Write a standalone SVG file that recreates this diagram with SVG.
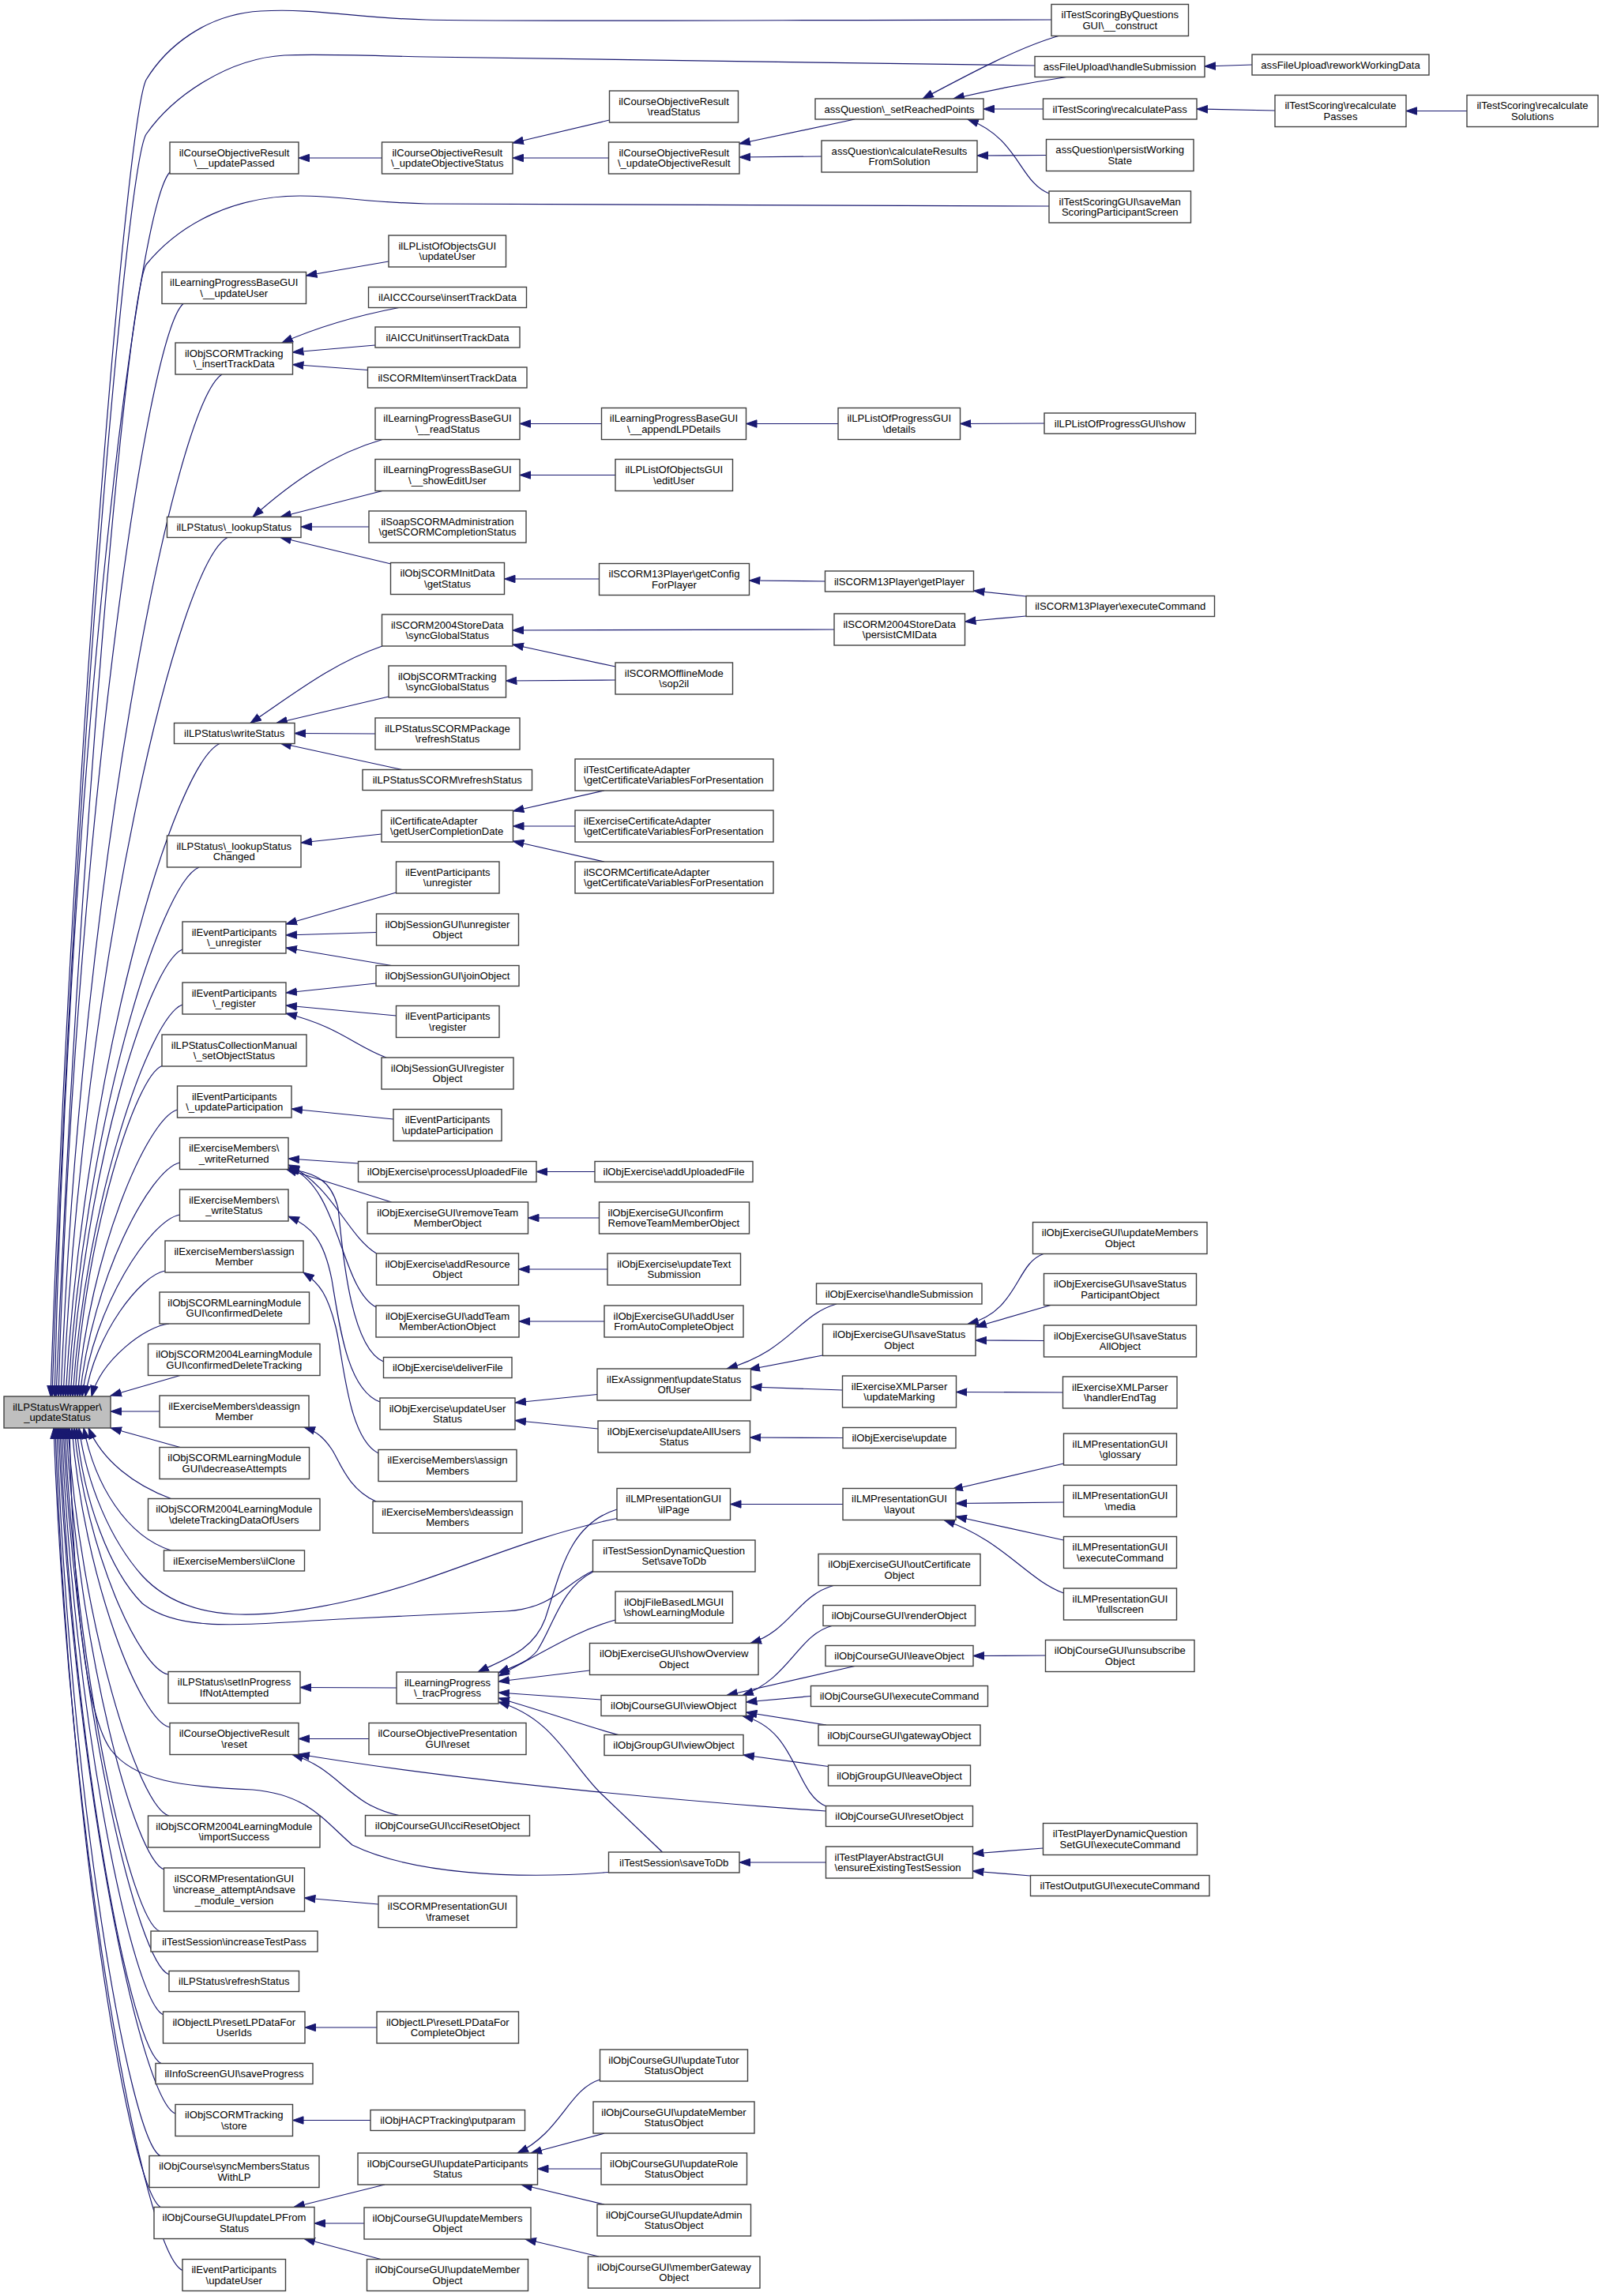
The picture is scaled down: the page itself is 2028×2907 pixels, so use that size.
<svg xmlns="http://www.w3.org/2000/svg" width="2028" height="2907" viewBox="0 0 2028 2907">
<style>
.n rect{fill:#fff;stroke:#404040;stroke-width:1.4}
.n text{font-family:"Liberation Sans",Arial,Helvetica,sans-serif;font-size:13.1px;fill:#000;text-anchor:middle}
.n.l text{text-anchor:start}
#n_main rect{fill:#bfbfbf}
.e{fill:none;stroke:#191970;stroke-width:1.2;marker-end:url(#arr)}
</style>
<defs>
<marker id="arr" markerUnits="userSpaceOnUse" markerWidth="15" markerHeight="11" refX="14" refY="5.5" orient="auto">
<path d="M0.5,0.8 L14,5.5 L0.5,10.2 z" fill="#191970" stroke="#191970" stroke-width="1"/>
</marker>
</defs>
<rect x="0" y="0" width="2028" height="2907" fill="#fff"/>
<g id="edges">
<path class="e" d="M1331,25 C1000,25 700,28 540,25 C450,23 400,10 330,14 C260,18 210,60 185,101 C160,150 90,1000 64,1768"/>
<path class="e" d="M1310,83 C1000,79 700,76 540,72 C450,70 400,68 360,70 C290,74 220,120 185,170 C160,210 92,1000 66,1768"/>
<path class="e" d="M1328,261 C1000,260 700,260 540,258 C460,256 430,248 380,248 C300,248 230,280 185,335 C160,380 98,1100 71,1768"/>
<path class="e" d="M215,218 C171.2,264.5 86.5,993 69,1768"/>
<path class="e" d="M232,384.5 C184.6,426 93,1076.3 74,1768"/>
<path class="e" d="M281,474 C219.8,512.8 101.5,1121 77,1768"/>
<path class="e" d="M288,680.5 C225.6,713.1 105,1224.3 80,1768"/>
<path class="e" d="M279,941 C220.2,965.8 106.5,1354.5 83,1768"/>
<path class="e" d="M252,1098 C202.2,1118.1 105.9,1433 86,1768"/>
<path class="e" d="M231,1202 C188.4,1219 106,1485 89,1768"/>
<path class="e" d="M231,1272 C189.3,1286.9 108.7,1520 92,1768"/>
<path class="e" d="M205,1349.5 C172,1362.1 108.2,1558.8 95,1768"/>
<path class="e" d="M224.5,1405 C186.5,1415.9 113.2,1586.5 98,1768"/>
<path class="e" d="M227.5,1472 C189.5,1480.9 116.2,1620 101,1768"/>
<path class="e" d="M227.5,1538 C190.5,1544.9 118.8,1653 104,1768"/>
<path class="e" d="M209,1609 C178.7,1613.8 120.1,1688.5 108,1768"/>
<path class="e" d="M214,1676 C184.6,1678.8 127.8,1721.5 116,1768"/>
<path class="e" d="M228,1741.5 L140,1767"/>
<path class="e" d="M202,1787 L140,1787"/>
<path class="e" d="M228,1832.5 L140,1808"/>
<path class="e" d="M216.5,1897.5 C170,1880 130,1850 112,1808"/>
<path class="e" d="M216.5,1963 C160,1945 120,1880 106,1808"/>
<path class="e" d="M781,1922.5 C650,1950 560,2000 450,2025 C340,2050 240,2060 180,1995 C140,1950 110,1880 100,1808"/>
<path class="e" d="M750.5,1989 C715,2005 700,2037 640,2040 L450,2049 C320,2055 230,2070 180,2030 C140,1990 105,1900 97,1808"/>
<path class="e" d="M213,2120 C177.3,2113.8 108.3,1964 94,1808"/>
<path class="e" d="M215,2187 C177.8,2179.4 105.9,1997.5 91,1808"/>
<path class="e" d="M770.5,2370.5 C650,2380 520,2372 446,2336 C410,2305 390,2272 320,2266 C230,2262 170,2255 140,2215 C105,2165 92,2000 88,1808"/>
<path class="e" d="M214,2299 C175.6,2289.2 101.4,2053.5 86,1808"/>
<path class="e" d="M208,2367 C170.8,2355.8 98.9,2087.5 84,1808"/>
<path class="e" d="M202,2445 C166,2432.3 96.4,2126.5 82,1808"/>
<path class="e" d="M214,2500 C173.8,2486.2 96.1,2154 80,1808"/>
<path class="e" d="M207,2551 C168.3,2536.1 93.5,2179.5 78,1808"/>
<path class="e" d="M204,2612.5 C165.6,2596.4 91.4,2210.3 76,1808"/>
<path class="e" d="M222,2676 C177.6,2658.6 91.8,2242 74,1808"/>
<path class="e" d="M203,2729.5 C163.7,2711 87.7,2268.8 72,1808"/>
<path class="e" d="M204,2795 C163.8,2775.3 86.1,2301.5 70,1808"/>
<path class="e" d="M231,2874.5 C182.1,2853.2 87.6,2341.3 68,1808"/>
<path class="e" d="M483.5,200 L378,200"/>
<path class="e" d="M771.5,152 L649,181"/>
<path class="e" d="M770.5,200 L649,200"/>
<path class="e" d="M1082,151 L936,182"/>
<path class="e" d="M1040,198 L936,199"/>
<path class="e" d="M1340,45.5 C1290,60 1230,92 1168,125"/>
<path class="e" d="M1350,97.5 C1300,105 1250,115 1207,125"/>
<path class="e" d="M1320.5,138 L1245,138"/>
<path class="e" d="M1328,245 C1290,230 1290,175 1225,151"/>
<path class="e" d="M1324.5,196.5 L1237,197"/>
<path class="e" d="M1585,82 L1525,84"/>
<path class="e" d="M1614,140 L1515,138"/>
<path class="e" d="M1857,140.5 L1780,140.5"/>
<path class="e" d="M492,331 L387.5,349"/>
<path class="e" d="M505,389.5 C450,400 400,415 357,434"/>
<path class="e" d="M475,437 L370.5,446"/>
<path class="e" d="M465.5,468.5 L370.5,461.5"/>
<path class="e" d="M484,556.5 C420,575 370,610 320,654.5"/>
<path class="e" d="M484,621.5 L355,654.5"/>
<path class="e" d="M467,667 L381,667"/>
<path class="e" d="M495,714 L355,680.5"/>
<path class="e" d="M761.5,536.5 L658,536.5"/>
<path class="e" d="M1061,536.5 L944.5,536.5"/>
<path class="e" d="M1322,536 L1215.5,536.5"/>
<path class="e" d="M779,601.5 L658,601.5"/>
<path class="e" d="M758.5,733 L638.5,733"/>
<path class="e" d="M1044.5,736 L948.5,735"/>
<path class="e" d="M1299,755 L1232.5,748"/>
<path class="e" d="M1299,780 L1221.5,787"/>
<path class="e" d="M1056,797 L649,798"/>
<path class="e" d="M779,844 L649,816"/>
<path class="e" d="M779,861 L640.5,862"/>
<path class="e" d="M484,818 C420,840 370,880 317,915.5"/>
<path class="e" d="M492,882 L350,915.5"/>
<path class="e" d="M475,929 L373,928.5"/>
<path class="e" d="M509,974.5 L355,941"/>
<path class="e" d="M765,1001 L649.5,1027"/>
<path class="e" d="M728,1046 L649.5,1046"/>
<path class="e" d="M765,1091 L649.5,1065"/>
<path class="e" d="M483,1056 L381,1067"/>
<path class="e" d="M501.5,1130 L362,1170"/>
<path class="e" d="M476.5,1180.5 L362,1184"/>
<path class="e" d="M495.5,1222.5 L362,1200"/>
<path class="e" d="M476,1245 L362,1257"/>
<path class="e" d="M501.5,1286 L362,1273"/>
<path class="e" d="M489,1339 C450,1325 430,1300 362,1283"/>
<path class="e" d="M498,1417 L369,1404"/>
<path class="e" d="M753,1483.5 L679,1483.5"/>
<path class="e" d="M758.5,1542 L668.5,1542"/>
<path class="e" d="M769,1607 L656.5,1607"/>
<path class="e" d="M765,1673 L657,1673"/>
<path class="e" d="M453.5,1473 L365,1467"/>
<path class="e" d="M495.5,1522 L362,1480"/>
<path class="e" d="M476.5,1587 C440,1565 420,1500 365,1475"/>
<path class="e" d="M476,1655 C430,1630 430,1500 365,1478"/>
<path class="e" d="M485.5,1724 C440,1705 432,1560 428,1530 C420,1495 400,1485 365,1480"/>
<path class="e" d="M481,1775 C440,1760 430,1680 420,1620 C410,1570 395,1553 365,1540"/>
<path class="e" d="M479,1840 C440,1820 435,1720 425,1680 C415,1640 405,1625 384,1611"/>
<path class="e" d="M476,1901 C440,1885 430,1850 420,1835 C410,1820 400,1812 385,1807"/>
<path class="e" d="M756,1765.5 L652,1776"/>
<path class="e" d="M757,1809 L652,1798.5"/>
<path class="e" d="M1059,1651 C1010,1665 1000,1710 920,1733"/>
<path class="e" d="M1041.5,1716 L948,1734"/>
<path class="e" d="M1066.5,1760 L950.5,1756"/>
<path class="e" d="M1067,1820.5 L949.5,1820"/>
<path class="e" d="M1321,1587.5 C1285,1600 1290,1660 1225,1676.5"/>
<path class="e" d="M1330,1652.5 L1235,1680"/>
<path class="e" d="M1321.5,1697.5 L1235,1697"/>
<path class="e" d="M1345.5,1763 L1210.5,1762.5"/>
<path class="e" d="M1346.5,1853 L1205,1886"/>
<path class="e" d="M1346.5,1902 L1210,1903.5"/>
<path class="e" d="M1346.5,1950 L1210,1920"/>
<path class="e" d="M1346.5,2017 C1300,2000 1270,1950 1195,1924.5"/>
<path class="e" d="M1067,1904.5 L924.5,1904.5"/>
<path class="e" d="M781,1911 C720,1930 710,1990 690,2050 C675,2090 640,2100 605,2117"/>
<path class="e" d="M751,1990 C710,2010 700,2060 680,2090 C668,2105 650,2110 631,2118"/>
<path class="e" d="M779,2051 C730,2065 700,2085 631,2122"/>
<path class="e" d="M746.5,2115 L631,2129"/>
<path class="e" d="M761,2152 L631,2143"/>
<path class="e" d="M783,2196.5 C740,2185 700,2170 631,2150"/>
<path class="e" d="M838.5,2345 L760,2270 C720,2230 700,2175 631,2155"/>
<path class="e" d="M502,2137 L380,2136.5"/>
<path class="e" d="M1055,2007.5 C1010,2020 1000,2065 950,2080.5"/>
<path class="e" d="M1053,2058.5 C1010,2070 1000,2125 940,2146.5"/>
<path class="e" d="M1082,2109.5 L920,2146.5"/>
<path class="e" d="M1026.5,2147.5 L944.5,2155"/>
<path class="e" d="M1046,2184 L944.5,2168"/>
<path class="e" d="M1046,2287 C1005,2270 1010,2190 940,2172.5"/>
<path class="e" d="M1323.5,2096 L1232,2096.5"/>
<path class="e" d="M1048.5,2236.5 L941,2222"/>
<path class="e" d="M1045.5,2293 C900,2283 600,2258 378,2221"/>
<path class="e" d="M467,2201.5 L378,2201.5"/>
<path class="e" d="M505,2298.5 C440,2285 430,2240 370,2221.5"/>
<path class="e" d="M1045.5,2358 L936,2358"/>
<path class="e" d="M1320.5,2340 L1231.5,2347"/>
<path class="e" d="M1304.5,2375 L1231.5,2369"/>
<path class="e" d="M479,2411 L385.5,2403"/>
<path class="e" d="M477,2567 L386,2567"/>
<path class="e" d="M469,2684.5 L370.5,2684.5"/>
<path class="e" d="M487,2766 L372,2794.5"/>
<path class="e" d="M461,2815 L398,2815"/>
<path class="e" d="M482,2860.5 L385,2834.5"/>
<path class="e" d="M759.5,2633 C720,2645 710,2700 655,2726"/>
<path class="e" d="M765,2701 L672,2726"/>
<path class="e" d="M761,2746 L680.5,2746"/>
<path class="e" d="M765,2791 L660,2766"/>
<path class="e" d="M758,2857 L665,2835"/>
</g>
<g id="n_main" class="n"><rect x="5" y="1768" width="135" height="40"/><text><tspan x="72.5" y="1785.5">ilLPStatusWrapper\</tspan><tspan x="72.5" y="1799.2">_updateStatus</tspan></text></g>
<g id="n_c1_1" class="n"><rect x="215" y="180" width="163" height="40"/><text><tspan x="296.5" y="197.5">ilCourseObjectiveResult</tspan><tspan x="296.5" y="211.2">\__updatePassed</tspan></text></g>
<g id="n_c1_2" class="n"><rect x="205" y="344.5" width="182.5" height="40"/><text><tspan x="296.25" y="362">ilLearningProgressBaseGUI</tspan><tspan x="296.25" y="375.7">\__updateUser</tspan></text></g>
<g id="n_c1_3" class="n"><rect x="222" y="434" width="148.5" height="40"/><text><tspan x="296.25" y="451.5">ilObjSCORMTracking</tspan><tspan x="296.25" y="465.2">\_insertTrackData</tspan></text></g>
<g id="n_c1_4" class="n"><rect x="211.5" y="654.5" width="169.5" height="26"/><text><tspan x="296.25" y="672.1">ilLPStatus\_lookupStatus</tspan></text></g>
<g id="n_c1_5" class="n"><rect x="220.5" y="915.5" width="152.5" height="26"/><text><tspan x="296.75" y="933.1">ilLPStatus\writeStatus</tspan></text></g>
<g id="n_c1_6" class="n"><rect x="211.5" y="1058" width="169.5" height="40"/><text><tspan x="296.25" y="1075.5">ilLPStatus\_lookupStatus</tspan><tspan x="296.25" y="1089.2">Changed</tspan></text></g>
<g id="n_c1_7" class="n"><rect x="231" y="1167" width="131" height="40"/><text><tspan x="296.5" y="1184.5">ilEventParticipants</tspan><tspan x="296.5" y="1198.2">\_unregister</tspan></text></g>
<g id="n_c1_8" class="n"><rect x="231" y="1244" width="131" height="40"/><text><tspan x="296.5" y="1261.5">ilEventParticipants</tspan><tspan x="296.5" y="1275.2">\_register</tspan></text></g>
<g id="n_c1_9" class="n"><rect x="205" y="1310" width="183" height="40"/><text><tspan x="296.5" y="1327.5">ilLPStatusCollectionManual</tspan><tspan x="296.5" y="1341.2">\_setObjectStatus</tspan></text></g>
<g id="n_c1_10" class="n"><rect x="224.5" y="1375" width="144.5" height="40"/><text><tspan x="296.75" y="1392.5">ilEventParticipants</tspan><tspan x="296.75" y="1406.2">\_updateParticipation</tspan></text></g>
<g id="n_c1_11" class="n"><rect x="227.5" y="1440.5" width="137.5" height="40"/><text><tspan x="296.25" y="1458">ilExerciseMembers\</tspan><tspan x="296.25" y="1471.7">_writeReturned</tspan></text></g>
<g id="n_c1_12" class="n"><rect x="227.5" y="1506" width="137.5" height="40"/><text><tspan x="296.25" y="1523.5">ilExerciseMembers\</tspan><tspan x="296.25" y="1537.2">_writeStatus</tspan></text></g>
<g id="n_c1_13" class="n"><rect x="209" y="1571" width="175" height="40"/><text><tspan x="296.5" y="1588.5">ilExerciseMembers\assign</tspan><tspan x="296.5" y="1602.2">Member</tspan></text></g>
<g id="n_c1_14" class="n"><rect x="202" y="1636" width="189.5" height="40"/><text><tspan x="296.75" y="1653.5">ilObjSCORMLearningModule</tspan><tspan x="296.75" y="1667.2">GUI\confirmedDelete</tspan></text></g>
<g id="n_c1_15" class="n"><rect x="187.5" y="1701.5" width="217.5" height="40"/><text><tspan x="296.25" y="1719">ilObjSCORM2004LearningModule</tspan><tspan x="296.25" y="1732.7">GUI\confirmedDeleteTracking</tspan></text></g>
<g id="n_c1_16" class="n"><rect x="202" y="1767" width="189" height="40"/><text><tspan x="296.5" y="1784.5">ilExerciseMembers\deassign</tspan><tspan x="296.5" y="1798.2">Member</tspan></text></g>
<g id="n_c1_17" class="n"><rect x="202" y="1832.5" width="189.5" height="40"/><text><tspan x="296.75" y="1850">ilObjSCORMLearningModule</tspan><tspan x="296.75" y="1863.7">GUI\decreaseAttempts</tspan></text></g>
<g id="n_c1_18" class="n"><rect x="187.5" y="1897.5" width="217.5" height="40"/><text><tspan x="296.25" y="1915">ilObjSCORM2004LearningModule</tspan><tspan x="296.25" y="1928.7">\deleteTrackingDataOfUsers</tspan></text></g>
<g id="n_c1_19" class="n"><rect x="207.5" y="1963" width="178" height="26"/><text><tspan x="296.5" y="1980.6">ilExerciseMembers\ilClone</tspan></text></g>
<g id="n_c1_20" class="n"><rect x="213" y="2116.5" width="167" height="40"/><text><tspan x="296.5" y="2134">ilLPStatus\setInProgress</tspan><tspan x="296.5" y="2147.7">IfNotAttempted</tspan></text></g>
<g id="n_c1_21" class="n"><rect x="215" y="2181.5" width="163" height="40"/><text><tspan x="296.5" y="2199">ilCourseObjectiveResult</tspan><tspan x="296.5" y="2212.7">\reset</tspan></text></g>
<g id="n_c1_22" class="n"><rect x="187.5" y="2299" width="217.5" height="40"/><text><tspan x="296.25" y="2316.5">ilObjSCORM2004LearningModule</tspan><tspan x="296.25" y="2330.2">\importSuccess</tspan></text></g>
<g id="n_c1_23" class="n"><rect x="207.5" y="2365" width="178" height="55"/><text><tspan x="296.5" y="2383.3">ilSCORMPresentationGUI</tspan><tspan x="296.5" y="2397">\increase_attemptAndsave</tspan><tspan x="296.5" y="2410.7">_module_version</tspan></text></g>
<g id="n_c1_24" class="n"><rect x="191" y="2445" width="211" height="26"/><text><tspan x="296.5" y="2462.6">ilTestSession\increaseTestPass</tspan></text></g>
<g id="n_c1_25" class="n"><rect x="214" y="2495.5" width="164.5" height="26"/><text><tspan x="296.25" y="2513.1">ilLPStatus\refreshStatus</tspan></text></g>
<g id="n_c1_26" class="n"><rect x="206.5" y="2547" width="179.5" height="40"/><text><tspan x="296.25" y="2564.5">ilObjectLP\resetLPDataFor</tspan><tspan x="296.25" y="2578.2">UserIds</tspan></text></g>
<g id="n_c1_27" class="n"><rect x="197" y="2612.5" width="199" height="26"/><text><tspan x="296.5" y="2630.1">ilInfoScreenGUI\saveProgress</tspan></text></g>
<g id="n_c1_28" class="n"><rect x="222" y="2664.5" width="148.5" height="40"/><text><tspan x="296.25" y="2682">ilObjSCORMTracking</tspan><tspan x="296.25" y="2695.7">\store</tspan></text></g>
<g id="n_c1_29" class="n"><rect x="189" y="2729.5" width="215" height="40"/><text><tspan x="296.5" y="2747">ilObjCourse\syncMembersStatus</tspan><tspan x="296.5" y="2760.7">WithLP</tspan></text></g>
<g id="n_c1_30" class="n"><rect x="195" y="2794.5" width="203" height="40"/><text><tspan x="296.5" y="2812">ilObjCourseGUI\updateLPFrom</tspan><tspan x="296.5" y="2825.7">Status</tspan></text></g>
<g id="n_c1_31" class="n"><rect x="231" y="2860.5" width="130.5" height="40"/><text><tspan x="296.25" y="2878">ilEventParticipants</tspan><tspan x="296.25" y="2891.7">\updateUser</tspan></text></g>
<g id="n_c2_1" class="n"><rect x="483.5" y="180" width="165.5" height="40"/><text><tspan x="566.25" y="197.5">ilCourseObjectiveResult</tspan><tspan x="566.25" y="211.2">\_updateObjectiveStatus</tspan></text></g>
<g id="n_c2_2" class="n"><rect x="492" y="298" width="148.5" height="40"/><text><tspan x="566.25" y="315.5">ilLPListOfObjectsGUI</tspan><tspan x="566.25" y="329.2">\updateUser</tspan></text></g>
<g id="n_c2_3" class="n"><rect x="466.5" y="363.5" width="200" height="26"/><text><tspan x="566.5" y="381.1">ilAICCCourse\insertTrackData</tspan></text></g>
<g id="n_c2_4" class="n"><rect x="475" y="414" width="183" height="26"/><text><tspan x="566.5" y="431.6">ilAICCUnit\insertTrackData</tspan></text></g>
<g id="n_c2_5" class="n"><rect x="465.5" y="465" width="201.5" height="26"/><text><tspan x="566.25" y="482.6">ilSCORMItem\insertTrackData</tspan></text></g>
<g id="n_c2_6" class="n"><rect x="475" y="516.5" width="183" height="40"/><text><tspan x="566.5" y="534">ilLearningProgressBaseGUI</tspan><tspan x="566.5" y="547.7">\__readStatus</tspan></text></g>
<g id="n_c2_7" class="n"><rect x="475" y="581.5" width="183" height="40"/><text><tspan x="566.5" y="599">ilLearningProgressBaseGUI</tspan><tspan x="566.5" y="612.7">\__showEditUser</tspan></text></g>
<g id="n_c2_8" class="n"><rect x="467" y="647" width="199" height="40"/><text><tspan x="566.5" y="664.5">ilSoapSCORMAdministration</tspan><tspan x="566.5" y="678.2">\getSCORMCompletionStatus</tspan></text></g>
<g id="n_c2_9" class="n"><rect x="494.5" y="712.5" width="144" height="40"/><text><tspan x="566.5" y="730">ilObjSCORMInitData</tspan><tspan x="566.5" y="743.7">\getStatus</tspan></text></g>
<g id="n_c2_10" class="n"><rect x="483.5" y="778" width="165.5" height="40"/><text><tspan x="566.25" y="795.5">ilSCORM2004StoreData</tspan><tspan x="566.25" y="809.2">\syncGlobalStatus</tspan></text></g>
<g id="n_c2_11" class="n"><rect x="492" y="843" width="148.5" height="40"/><text><tspan x="566.25" y="860.5">ilObjSCORMTracking</tspan><tspan x="566.25" y="874.2">\syncGlobalStatus</tspan></text></g>
<g id="n_c2_12" class="n"><rect x="475" y="909" width="183" height="40"/><text><tspan x="566.5" y="926.5">ilLPStatusSCORMPackage</tspan><tspan x="566.5" y="940.2">\refreshStatus</tspan></text></g>
<g id="n_c2_13" class="n"><rect x="459" y="974.5" width="214.5" height="26"/><text><tspan x="566.25" y="992.1">ilLPStatusSCORM\refreshStatus</tspan></text></g>
<g id="n_c2_14" class="n l"><rect x="483" y="1026" width="166.5" height="40"/><text><tspan x="494" y="1043.5">ilCertificateAdapter</tspan><tspan x="494" y="1057.2">\getUserCompletionDate</tspan></text></g>
<g id="n_c2_15" class="n"><rect x="501.5" y="1091" width="130.5" height="40"/><text><tspan x="566.75" y="1108.5">ilEventParticipants</tspan><tspan x="566.75" y="1122.2">\unregister</tspan></text></g>
<g id="n_c2_16" class="n"><rect x="476.5" y="1157" width="180" height="40"/><text><tspan x="566.5" y="1174.5">ilObjSessionGUI\unregister</tspan><tspan x="566.5" y="1188.2">Object</tspan></text></g>
<g id="n_c2_17" class="n"><rect x="476" y="1222.5" width="181" height="26"/><text><tspan x="566.5" y="1240.1">ilObjSessionGUI\joinObject</tspan></text></g>
<g id="n_c2_18" class="n"><rect x="501.5" y="1273.5" width="130.5" height="40"/><text><tspan x="566.75" y="1291">ilEventParticipants</tspan><tspan x="566.75" y="1304.7">\register</tspan></text></g>
<g id="n_c2_19" class="n"><rect x="483" y="1339" width="167" height="40"/><text><tspan x="566.5" y="1356.5">ilObjSessionGUI\register</tspan><tspan x="566.5" y="1370.2">Object</tspan></text></g>
<g id="n_c2_20" class="n"><rect x="498" y="1404.5" width="137" height="40"/><text><tspan x="566.5" y="1422">ilEventParticipants</tspan><tspan x="566.5" y="1435.7">\updateParticipation</tspan></text></g>
<g id="n_c2_21" class="n"><rect x="453.5" y="1470.5" width="225.5" height="26"/><text><tspan x="566.25" y="1488.1">ilObjExercise\processUploadedFile</tspan></text></g>
<g id="n_c2_22" class="n"><rect x="465" y="1522" width="203.5" height="40"/><text><tspan x="566.75" y="1539.5">ilObjExerciseGUI\removeTeam</tspan><tspan x="566.75" y="1553.2">MemberObject</tspan></text></g>
<g id="n_c2_23" class="n"><rect x="476.5" y="1587" width="180" height="40"/><text><tspan x="566.5" y="1604.5">ilObjExercise\addResource</tspan><tspan x="566.5" y="1618.2">Object</tspan></text></g>
<g id="n_c2_24" class="n"><rect x="476" y="1653" width="181" height="40"/><text><tspan x="566.5" y="1670.5">ilObjExerciseGUI\addTeam</tspan><tspan x="566.5" y="1684.2">MemberActionObject</tspan></text></g>
<g id="n_c2_25" class="n"><rect x="485.5" y="1718.5" width="162.5" height="26"/><text><tspan x="566.75" y="1736.1">ilObjExercise\deliverFile</tspan></text></g>
<g id="n_c2_26" class="n"><rect x="481" y="1770" width="171" height="40"/><text><tspan x="566.5" y="1787.5">ilObjExercise\updateUser</tspan><tspan x="566.5" y="1801.2">Status</tspan></text></g>
<g id="n_c2_27" class="n"><rect x="479" y="1835.5" width="175" height="40"/><text><tspan x="566.5" y="1853">ilExerciseMembers\assign</tspan><tspan x="566.5" y="1866.7">Members</tspan></text></g>
<g id="n_c2_28" class="n"><rect x="472" y="1901" width="189" height="40"/><text><tspan x="566.5" y="1918.5">ilExerciseMembers\deassign</tspan><tspan x="566.5" y="1932.2">Members</tspan></text></g>
<g id="n_c2_29" class="n"><rect x="502" y="2117" width="129" height="40"/><text><tspan x="566.5" y="2134.5">ilLearningProgress</tspan><tspan x="566.5" y="2148.2">\_tracProgress</tspan></text></g>
<g id="n_c2_30" class="n"><rect x="467" y="2181.5" width="199" height="40"/><text><tspan x="566.5" y="2199">ilCourseObjectivePresentation</tspan><tspan x="566.5" y="2212.7">GUI\reset</tspan></text></g>
<g id="n_c2_31" class="n"><rect x="462.5" y="2298.5" width="208" height="26"/><text><tspan x="566.5" y="2316.1">ilObjCourseGUI\cciResetObject</tspan></text></g>
<g id="n_c2_32" class="n"><rect x="479" y="2400.5" width="175" height="40"/><text><tspan x="566.5" y="2418">ilSCORMPresentationGUI</tspan><tspan x="566.5" y="2431.7">\frameset</tspan></text></g>
<g id="n_c2_33" class="n"><rect x="477" y="2547" width="179.5" height="40"/><text><tspan x="566.75" y="2564.5">ilObjectLP\resetLPDataFor</tspan><tspan x="566.75" y="2578.2">CompleteObject</tspan></text></g>
<g id="n_c2_34" class="n"><rect x="469" y="2671.5" width="195.5" height="26"/><text><tspan x="566.75" y="2689.1">ilObjHACPTracking\putparam</tspan></text></g>
<g id="n_c2_35" class="n"><rect x="453" y="2726" width="227.5" height="40"/><text><tspan x="566.75" y="2743.5">ilObjCourseGUI\updateParticipants</tspan><tspan x="566.75" y="2757.2">Status</tspan></text></g>
<g id="n_c2_36" class="n"><rect x="461" y="2795" width="211" height="40"/><text><tspan x="566.5" y="2812.5">ilObjCourseGUI\updateMembers</tspan><tspan x="566.5" y="2826.2">Object</tspan></text></g>
<g id="n_c2_37" class="n"><rect x="464.5" y="2860.5" width="204" height="40"/><text><tspan x="566.5" y="2878">ilObjCourseGUI\updateMember</tspan><tspan x="566.5" y="2891.7">Object</tspan></text></g>
<g id="n_c3_1" class="n"><rect x="771.5" y="115" width="163" height="40"/><text><tspan x="853" y="132.5">ilCourseObjectiveResult</tspan><tspan x="853" y="146.2">\readStatus</tspan></text></g>
<g id="n_c3_2" class="n"><rect x="770.5" y="180" width="165.5" height="40"/><text><tspan x="853.25" y="197.5">ilCourseObjectiveResult</tspan><tspan x="853.25" y="211.2">\_updateObjectiveResult</tspan></text></g>
<g id="n_c3_3" class="n"><rect x="761.5" y="516.5" width="183" height="40"/><text><tspan x="853" y="534">ilLearningProgressBaseGUI</tspan><tspan x="853" y="547.7">\__appendLPDetails</tspan></text></g>
<g id="n_c3_4" class="n"><rect x="779" y="581.5" width="148.5" height="40"/><text><tspan x="853.25" y="599">ilLPListOfObjectsGUI</tspan><tspan x="853.25" y="612.7">\editUser</tspan></text></g>
<g id="n_c3_5" class="n"><rect x="758.5" y="713.5" width="190" height="40"/><text><tspan x="853.5" y="731">ilSCORM13Player\getConfig</tspan><tspan x="853.5" y="744.7">ForPlayer</tspan></text></g>
<g id="n_c3_6" class="n"><rect x="779" y="839" width="148.5" height="40"/><text><tspan x="853.25" y="856.5">ilSCORMOfflineMode</tspan><tspan x="853.25" y="870.2">\sop2il</tspan></text></g>
<g id="n_c3_7" class="n l"><rect x="728" y="961" width="251" height="40"/><text><tspan x="739" y="978.5">ilTestCertificateAdapter</tspan><tspan x="739" y="992.2">\getCertificateVariablesForPresentation</tspan></text></g>
<g id="n_c3_8" class="n l"><rect x="728" y="1026" width="251" height="40"/><text><tspan x="739" y="1043.5">ilExerciseCertificateAdapter</tspan><tspan x="739" y="1057.2">\getCertificateVariablesForPresentation</tspan></text></g>
<g id="n_c3_9" class="n l"><rect x="728" y="1091" width="251" height="40"/><text><tspan x="739" y="1108.5">ilSCORMCertificateAdapter</tspan><tspan x="739" y="1122.2">\getCertificateVariablesForPresentation</tspan></text></g>
<g id="n_c3_10" class="n"><rect x="753" y="1470.5" width="200" height="26"/><text><tspan x="853" y="1488.1">ilObjExercise\addUploadedFile</tspan></text></g>
<g id="n_c3_11" class="n l"><rect x="758.5" y="1522" width="190" height="40"/><text><tspan x="769.5" y="1539.5">ilObjExerciseGUI\confirm</tspan><tspan x="769.5" y="1553.2">RemoveTeamMemberObject</tspan></text></g>
<g id="n_c3_12" class="n"><rect x="769" y="1587" width="168.5" height="40"/><text><tspan x="853.25" y="1604.5">ilObjExercise\updateText</tspan><tspan x="853.25" y="1618.2">Submission</tspan></text></g>
<g id="n_c3_13" class="n"><rect x="765" y="1653" width="176" height="40"/><text><tspan x="853" y="1670.5">ilObjExerciseGUI\addUser</tspan><tspan x="853" y="1684.2">FromAutoCompleteObject</tspan></text></g>
<g id="n_c3_14" class="n"><rect x="756" y="1733" width="194.5" height="40"/><text><tspan x="853.25" y="1750.5">ilExAssignment\updateStatus</tspan><tspan x="853.25" y="1764.2">OfUser</tspan></text></g>
<g id="n_c3_15" class="n"><rect x="757" y="1799" width="192.5" height="40"/><text><tspan x="853.25" y="1816.5">ilObjExercise\updateAllUsers</tspan><tspan x="853.25" y="1830.2">Status</tspan></text></g>
<g id="n_c3_16" class="n"><rect x="781" y="1884.5" width="143.5" height="40"/><text><tspan x="852.75" y="1902">ilLMPresentationGUI</tspan><tspan x="852.75" y="1915.7">\ilPage</tspan></text></g>
<g id="n_c3_17" class="n"><rect x="750.5" y="1950" width="205.5" height="40"/><text><tspan x="853.25" y="1967.5">ilTestSessionDynamicQuestion</tspan><tspan x="853.25" y="1981.2">Set\saveToDb</tspan></text></g>
<g id="n_c3_18" class="n"><rect x="779" y="2015" width="148.5" height="40"/><text><tspan x="853.25" y="2032.5">ilObjFileBasedLMGUI</tspan><tspan x="853.25" y="2046.2">\showLearningModule</tspan></text></g>
<g id="n_c3_19" class="n"><rect x="746.5" y="2080.5" width="213.5" height="40"/><text><tspan x="853.25" y="2098">ilObjExerciseGUI\showOverview</tspan><tspan x="853.25" y="2111.7">Object</tspan></text></g>
<g id="n_c3_20" class="n"><rect x="761" y="2146.5" width="183.5" height="26"/><text><tspan x="852.75" y="2164.1">ilObjCourseGUI\viewObject</tspan></text></g>
<g id="n_c3_21" class="n"><rect x="765" y="2196.5" width="176" height="26"/><text><tspan x="853" y="2214.1">ilObjGroupGUI\viewObject</tspan></text></g>
<g id="n_c3_22" class="n"><rect x="770.5" y="2345" width="165.5" height="26"/><text><tspan x="853.25" y="2362.6">ilTestSession\saveToDb</tspan></text></g>
<g id="n_c3_23" class="n"><rect x="759.5" y="2595" width="187" height="40"/><text><tspan x="853" y="2612.5">ilObjCourseGUI\updateTutor</tspan><tspan x="853" y="2626.2">StatusObject</tspan></text></g>
<g id="n_c3_24" class="n"><rect x="751" y="2661" width="204" height="40"/><text><tspan x="853" y="2678.5">ilObjCourseGUI\updateMember</tspan><tspan x="853" y="2692.2">StatusObject</tspan></text></g>
<g id="n_c3_25" class="n"><rect x="761" y="2726" width="184.5" height="40"/><text><tspan x="853.25" y="2743.5">ilObjCourseGUI\updateRole</tspan><tspan x="853.25" y="2757.2">StatusObject</tspan></text></g>
<g id="n_c3_26" class="n"><rect x="756" y="2791" width="194.5" height="40"/><text><tspan x="853.25" y="2808.5">ilObjCourseGUI\updateAdmin</tspan><tspan x="853.25" y="2822.2">StatusObject</tspan></text></g>
<g id="n_c3_27" class="n"><rect x="744.5" y="2857" width="217.5" height="40"/><text><tspan x="853.25" y="2874.5">ilObjCourseGUI\memberGateway</tspan><tspan x="853.25" y="2888.2">Object</tspan></text></g>
<g id="n_c4_1" class="n"><rect x="1032" y="125" width="213" height="26"/><text><tspan x="1138.5" y="142.6">assQuestion\_setReachedPoints</tspan></text></g>
<g id="n_c4_2" class="n"><rect x="1040" y="178" width="197" height="40"/><text><tspan x="1138.5" y="195.5">assQuestion\calculateResults</tspan><tspan x="1138.5" y="209.2">FromSolution</tspan></text></g>
<g id="n_c4_3" class="n"><rect x="1061" y="516.5" width="154.5" height="40"/><text><tspan x="1138.25" y="534">ilLPListOfProgressGUI</tspan><tspan x="1138.25" y="547.7">\details</tspan></text></g>
<g id="n_c4_4" class="n"><rect x="1044.5" y="723" width="188" height="26"/><text><tspan x="1138.5" y="740.6">ilSCORM13Player\getPlayer</tspan></text></g>
<g id="n_c4_5" class="n"><rect x="1056" y="777" width="165.5" height="40"/><text><tspan x="1138.75" y="794.5">ilSCORM2004StoreData</tspan><tspan x="1138.75" y="808.2">\persistCMIData</tspan></text></g>
<g id="n_c4_6" class="n"><rect x="1033.5" y="1625" width="209.5" height="26"/><text><tspan x="1138.25" y="1642.6">ilObjExercise\handleSubmission</tspan></text></g>
<g id="n_c4_7" class="n"><rect x="1041.5" y="1676.5" width="193.5" height="40"/><text><tspan x="1138.25" y="1694">ilObjExerciseGUI\saveStatus</tspan><tspan x="1138.25" y="1707.7">Object</tspan></text></g>
<g id="n_c4_8" class="n"><rect x="1066.5" y="1742" width="144" height="40"/><text><tspan x="1138.5" y="1759.5">ilExerciseXMLParser</tspan><tspan x="1138.5" y="1773.2">\updateMarking</tspan></text></g>
<g id="n_c4_9" class="n"><rect x="1067" y="1807.5" width="143" height="26"/><text><tspan x="1138.5" y="1825.1">ilObjExercise\update</tspan></text></g>
<g id="n_c4_10" class="n"><rect x="1067" y="1884.5" width="143" height="40"/><text><tspan x="1138.5" y="1902">ilLMPresentationGUI</tspan><tspan x="1138.5" y="1915.7">\layout</tspan></text></g>
<g id="n_c4_11" class="n"><rect x="1036" y="1967.5" width="205" height="40"/><text><tspan x="1138.5" y="1985">ilObjExerciseGUI\outCertificate</tspan><tspan x="1138.5" y="1998.7">Object</tspan></text></g>
<g id="n_c4_12" class="n"><rect x="1042" y="2032.5" width="192.5" height="26"/><text><tspan x="1138.25" y="2050.1">ilObjCourseGUI\renderObject</tspan></text></g>
<g id="n_c4_13" class="n"><rect x="1045" y="2083.5" width="187" height="26"/><text><tspan x="1138.5" y="2101.1">ilObjCourseGUI\leaveObject</tspan></text></g>
<g id="n_c4_14" class="n"><rect x="1026.5" y="2134.5" width="224" height="26"/><text><tspan x="1138.5" y="2152.1">ilObjCourseGUI\executeCommand</tspan></text></g>
<g id="n_c4_15" class="n"><rect x="1036" y="2184" width="205" height="26"/><text><tspan x="1138.5" y="2201.6">ilObjCourseGUI\gatewayObject</tspan></text></g>
<g id="n_c4_16" class="n"><rect x="1048.5" y="2235" width="180" height="26"/><text><tspan x="1138.5" y="2252.6">ilObjGroupGUI\leaveObject</tspan></text></g>
<g id="n_c4_17" class="n"><rect x="1045.5" y="2286.5" width="186" height="26"/><text><tspan x="1138.5" y="2304.1">ilObjCourseGUI\resetObject</tspan></text></g>
<g id="n_c4_18" class="n l"><rect x="1045.5" y="2338" width="186" height="40"/><text><tspan x="1056.5" y="2355.5">ilTestPlayerAbstractGUI</tspan><tspan x="1056.5" y="2369.2">\ensureExistingTestSession</tspan></text></g>
<g id="n_c5_1" class="n"><rect x="1331" y="5.5" width="173.5" height="40"/><text><tspan x="1417.75" y="23">ilTestScoringByQuestions</tspan><tspan x="1417.75" y="36.7">GUI\__construct</tspan></text></g>
<g id="n_c5_2" class="n"><rect x="1310" y="71.5" width="215" height="26"/><text><tspan x="1417.5" y="89.1">assFileUpload\handleSubmission</tspan></text></g>
<g id="n_c5_3" class="n"><rect x="1320.5" y="125" width="194.5" height="26"/><text><tspan x="1417.75" y="142.6">ilTestScoring\recalculatePass</tspan></text></g>
<g id="n_c5_4" class="n"><rect x="1324.5" y="176.5" width="186.5" height="40"/><text><tspan x="1417.75" y="194">assQuestion\persistWorking</tspan><tspan x="1417.75" y="207.7">State</tspan></text></g>
<g id="n_c5_5" class="n"><rect x="1328" y="242" width="179.5" height="40"/><text><tspan x="1417.75" y="259.5">ilTestScoringGUI\saveMan</tspan><tspan x="1417.75" y="273.2">ScoringParticipantScreen</tspan></text></g>
<g id="n_c5_6" class="n"><rect x="1322" y="523" width="191.5" height="26"/><text><tspan x="1417.75" y="540.6">ilLPListOfProgressGUI\show</tspan></text></g>
<g id="n_c5_7" class="n"><rect x="1299" y="754.5" width="238.5" height="26"/><text><tspan x="1418.25" y="772.1">ilSCORM13Player\executeCommand</tspan></text></g>
<g id="n_c5_8" class="n"><rect x="1307.5" y="1547.5" width="220.5" height="40"/><text><tspan x="1417.75" y="1565">ilObjExerciseGUI\updateMembers</tspan><tspan x="1417.75" y="1578.7">Object</tspan></text></g>
<g id="n_c5_9" class="n"><rect x="1321.5" y="1612.5" width="193" height="40"/><text><tspan x="1418" y="1630">ilObjExerciseGUI\saveStatus</tspan><tspan x="1418" y="1643.7">ParticipantObject</tspan></text></g>
<g id="n_c5_10" class="n"><rect x="1321.5" y="1678" width="193" height="40"/><text><tspan x="1418" y="1695.5">ilObjExerciseGUI\saveStatus</tspan><tspan x="1418" y="1709.2">AllObject</tspan></text></g>
<g id="n_c5_11" class="n"><rect x="1345.5" y="1743" width="144.5" height="40"/><text><tspan x="1417.75" y="1760.5">ilExerciseXMLParser</tspan><tspan x="1417.75" y="1774.2">\handlerEndTag</tspan></text></g>
<g id="n_c5_12" class="n"><rect x="1346.5" y="1815" width="143" height="40"/><text><tspan x="1418" y="1832.5">ilLMPresentationGUI</tspan><tspan x="1418" y="1846.2">\glossary</tspan></text></g>
<g id="n_c5_13" class="n"><rect x="1346.5" y="1880.5" width="143" height="40"/><text><tspan x="1418" y="1898">ilLMPresentationGUI</tspan><tspan x="1418" y="1911.7">\media</tspan></text></g>
<g id="n_c5_14" class="n"><rect x="1346.5" y="1945.5" width="143" height="40"/><text><tspan x="1418" y="1963">ilLMPresentationGUI</tspan><tspan x="1418" y="1976.7">\executeCommand</tspan></text></g>
<g id="n_c5_15" class="n"><rect x="1346.5" y="2011" width="143" height="40"/><text><tspan x="1418" y="2028.5">ilLMPresentationGUI</tspan><tspan x="1418" y="2042.2">\fullscreen</tspan></text></g>
<g id="n_c5_16" class="n"><rect x="1323.5" y="2076.5" width="188.5" height="40"/><text><tspan x="1417.75" y="2094">ilObjCourseGUI\unsubscribe</tspan><tspan x="1417.75" y="2107.7">Object</tspan></text></g>
<g id="n_c5_17" class="n"><rect x="1320.5" y="2308.5" width="195" height="40"/><text><tspan x="1418" y="2326">ilTestPlayerDynamicQuestion</tspan><tspan x="1418" y="2339.7">SetGUI\executeCommand</tspan></text></g>
<g id="n_c5_18" class="n"><rect x="1304.5" y="2374.5" width="226.5" height="26"/><text><tspan x="1417.75" y="2392.1">ilTestOutputGUI\executeCommand</tspan></text></g>
<g id="n_c6_1" class="n"><rect x="1585" y="69" width="224" height="26"/><text><tspan x="1697" y="86.6">assFileUpload\reworkWorkingData</tspan></text></g>
<g id="n_c6_2" class="n"><rect x="1614" y="120.5" width="166" height="40"/><text><tspan x="1697" y="138">ilTestScoring\recalculate</tspan><tspan x="1697" y="151.7">Passes</tspan></text></g>
<g id="n_c7_1" class="n"><rect x="1857" y="120.5" width="166" height="40"/><text><tspan x="1940" y="138">ilTestScoring\recalculate</tspan><tspan x="1940" y="151.7">Solutions</tspan></text></g>
</svg>
